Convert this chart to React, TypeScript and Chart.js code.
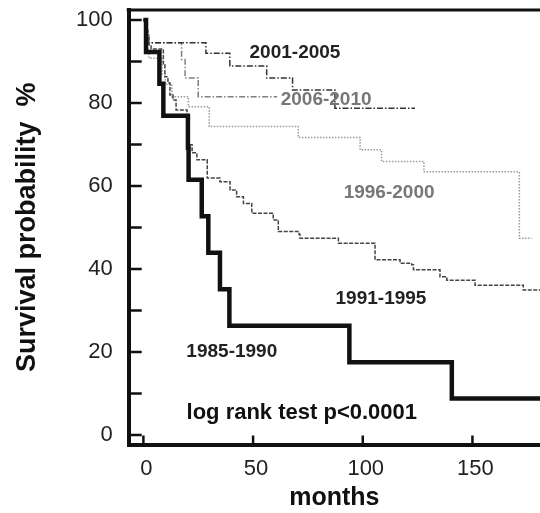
import { useEffect, useRef } from 'react';
import { Chart, registerables } from 'chart.js';

Chart.register(...registerables);

// ---- data (months, survival %) ----
const months1985 = [0, 1.2, 7.3, 9.1, 20.3, 20.6, 26.6, 29.6, 34.9, 39.2, 93.9, 140.6, 182];
const surv1985 = [100, 92.3, 84.6, 76.9, 69.2, 61.5, 52.7, 43.9, 35.1, 26.3, 17.5, 8.8, 8.8];

const months1991 = [0, 0.8, 1.6, 2.5, 3.5, 9.1, 9.8, 11.2, 12.1, 13.5, 14.9, 19.9, 20.8, 22.2, 24.4, 29.1, 34.9, 39.5, 42.5, 45.6, 49.4, 59.2, 61.5, 71.0, 71.4, 88.9, 105.6, 117, 122.3, 123.1, 135.2, 138.3, 151.2, 173.2, 182];
const surv1991 = [100, 98, 96, 94, 93, 89.2, 86.3, 84.8, 81.9, 80.7, 78.3, 74.2, 69.9, 68, 66.3, 61.9, 61, 59, 57.4, 55.8, 53.4, 51.8, 49, 48.3, 47.4, 46.2, 42.2, 41.4, 41, 39.8, 38.1, 37.3, 36.1, 34.9, 34.9];

const months1996 = [0, 0.8, 1.5, 2.5, 8.5, 10, 13, 20.5, 30, 70.6, 98.8, 108.6, 127.9, 171.4, 177];
const surv1996 = [100, 96, 93, 90.8, 87, 84.5, 81.5, 79.1, 74.3, 71.7, 68.7, 65.9, 63.4, 47.4, 47.4];

const months2001 = [0, 1, 2, 28.5, 39.4, 56.2, 68, 87.3, 123.8];
const surv2001 = [100, 97.5, 94.5, 92, 88.9, 86, 83.1, 78.7, 78.7];

const months2006 = [0, 1.5, 2.5, 17.4, 19, 25, 61];
const surv2006 = [100, 97, 94.5, 90.5, 86, 81.5, 81.5];

const seriesNames = ['1985-1990', '1991-1995', '1996-2000', '2001-2005', '2006-2010'];

const yTickLabels = [0, 20, 40, 60, 80, 100];
const yTickMarks = [0, 10, 20, 30, 40, 50, 60, 70, 80, 90, 100];
const xTickLabels = [0, 50, 100, 150];

// annotation anchors in data units (months, %)
const labelTexts = ['2001-2005', '2006-2010', '1996-2000', '1991-1995', '1985-1990', 'log rank test p<0.0001'];
const labelMonths = [69.1, 83.3, 112, 108.3, 40.3, 72.2];
const labelSurv = [92.0, 80.7, 58.3, 32.8, 20.0, 5.3];

const FONT = '"Liberation Sans", Arial, Helvetica, sans-serif';
const labelColors = ['#222', '#777', '#777', '#222', '#222', '#111'];
const labelSizes = [19, 19, 19, 19, 19, 22];

const toPts = (xs: number[], ys: number[]) => xs.map((x, i) => ({ x, y: ys[i] }));

export default function App() {
  const ref = useRef<HTMLCanvasElement | null>(null);

  useEffect(() => {
    if (!ref.current) return;

    const decor = {
      id: 'decor',
      afterDatasetsDraw(chart: any) {
        const { ctx, chartArea, scales } = chart;
        const xs = scales.x;
        const ys = scales.y;
        ctx.save();
        labelTexts.forEach((t, i) => {
          ctx.font = `bold ${labelSizes[i]}px ${FONT}`;
          ctx.fillStyle = labelColors[i];
          ctx.textAlign = 'center';
          ctx.textBaseline = 'middle';
          ctx.fillText(t, xs.getPixelForValue(labelMonths[i]), ys.getPixelForValue(labelSurv[i]));
        });
        ctx.restore();
      },
      afterDraw(chart: any) {
        const { ctx, chartArea, scales } = chart;
        const xs = scales.x;
        const ys = scales.y;
        ctx.save();
        ctx.strokeStyle = '#111';
        ctx.lineWidth = 2.5;
        ctx.beginPath();
        yTickMarks.forEach((v) => {
          const y = ys.getPixelForValue(v);
          ctx.moveTo(chartArea.left, y);
          ctx.lineTo(chartArea.left + 13, y);
        });
        xTickLabels.forEach((v) => {
          const x = xs.getPixelForValue(v);
          ctx.moveTo(x, chartArea.bottom);
          ctx.lineTo(x, chartArea.bottom - 9);
        });
        ctx.stroke();
        ctx.lineWidth = 3;
        ctx.beginPath();
        ctx.moveTo(chartArea.left - 2, chartArea.top);
        ctx.lineTo(chartArea.right, chartArea.top);
        ctx.stroke();
        ctx.restore();
      },
    };

    const chart = new Chart(ref.current, {
      type: 'line',
      data: {
        datasets: [
          {
            label: seriesNames[0],
            data: toPts(months1985, surv1985),
            borderColor: '#111',
            borderWidth: 4.5,
            stepped: true,
            pointRadius: 0,
          },
          {
            label: seriesNames[1],
            data: toPts(months1991, surv1991),
            borderColor: '#444',
            borderWidth: 1.5,
            borderDash: [4, 1.5],
            stepped: true,
            pointRadius: 0,
          },
          {
            label: seriesNames[2],
            data: toPts(months1996, surv1996),
            borderColor: '#9a9a9a',
            borderWidth: 1.5,
            borderDash: [1.5, 1.5],
            stepped: true,
            pointRadius: 0,
          },
          {
            label: seriesNames[3],
            data: toPts(months2001, surv2001),
            borderColor: '#333',
            borderWidth: 1.5,
            borderDash: [6, 2, 1.5, 2],
            stepped: true,
            pointRadius: 0,
          },
          {
            label: seriesNames[4],
            data: toPts(months2006, surv2006),
            borderColor: '#808080',
            borderWidth: 1.5,
            borderDash: [6, 2, 1.5, 2],
            stepped: true,
            pointRadius: 0,
          },
        ],
      },
      options: {
        animation: false,
        responsive: true,
        maintainAspectRatio: false,
        layout: { padding: { top: 10, left: 0, right: 0, bottom: 0 } },
        plugins: { legend: { display: false }, tooltip: { enabled: false } },
        scales: {
          x: {
            type: 'linear',
            min: -6.7,
            max: 180.8,
            grid: { display: false, drawTicks: false },
            border: { display: true, color: '#111', width: 4 },
            afterBuildTicks: (s: any) => {
              s.ticks = xTickLabels.map((v) => ({ value: v }));
            },
            afterFit: (s: any) => {
              s.height = 68.5;
              s.paddingLeft = 0;
              s.paddingRight = 0;
            },
            ticks: {
              color: '#222',
              font: { family: FONT, size: 22 },
              padding: 11,
              labelOffset: 3,
              maxRotation: 0,
              autoSkip: false,
            },
            title: {
              display: true,
              text: 'months',
              color: '#111',
              font: { family: FONT, size: 25, weight: 'bold' },
              padding: { top: 0, bottom: 0 },
            },
          },
          y: {
            type: 'linear',
            min: -2.3,
            max: 102.4,
            grid: { display: false, drawTicks: false },
            border: { display: true, color: '#111', width: 4 },
            afterBuildTicks: (s: any) => {
              s.ticks = yTickLabels.map((v) => ({ value: v }));
            },
            afterFit: (s: any) => {
              s.width = 128.7;
              s.paddingTop = 0;
              s.paddingBottom = 0;
            },
            ticks: {
              color: '#222',
              font: { family: FONT, size: 22 },
              padding: 16,
              autoSkip: false,
            },
            title: {
              display: true,
              text: 'Survival probability  %',
              color: '#111',
              font: { family: FONT, size: 27, weight: 'bold' },
              padding: { top: 11, bottom: 0 },
            },
          },
        },
      },
      plugins: [decor],
    } as any);

    return () => chart.destroy();
  }, []);

  return (
    <div style={{ position: 'absolute', left: 0, top: 0, width: 540, height: 513, background: '#fff' }}>
      <canvas ref={ref} />
    </div>
  );
}
